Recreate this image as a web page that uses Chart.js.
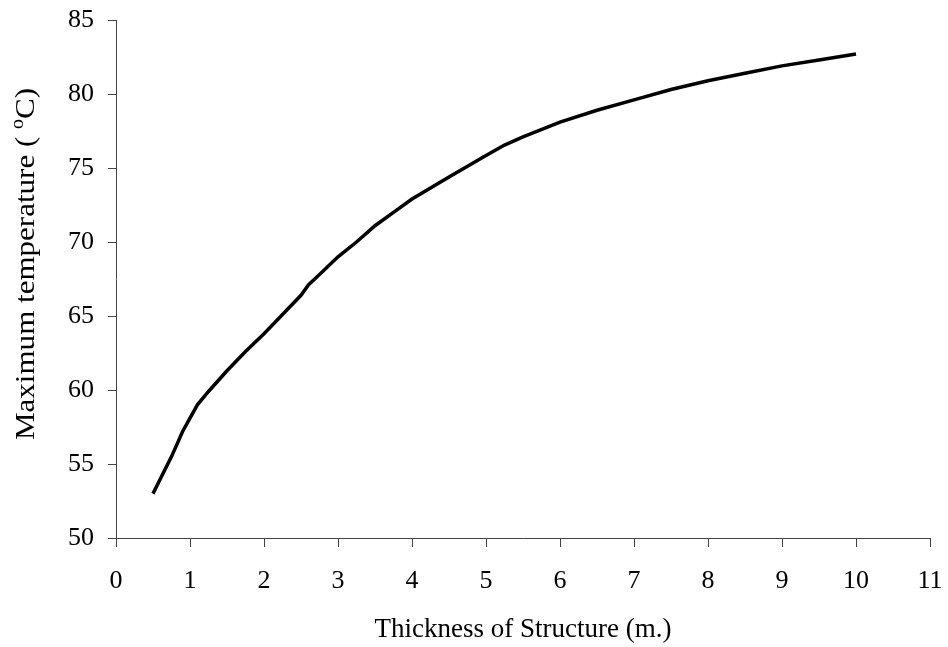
<!DOCTYPE html>
<html>
<head>
<meta charset="utf-8">
<script src="https://cdn.jsdelivr.net/npm/chart.js@4"></script>
<style>
  html, body { margin: 0; padding: 0; background: #ffffff; }
  #wrap { width: 948px; height: 647px; }
</style>
</head>
<body>
<div id="wrap"><canvas id="c" width="948" height="647"></canvas></div>
<script>
// Thickness of structure (m.)
const thickness = [0.5, 0.6, 0.75, 0.9, 1.0, 1.1, 1.25, 1.5, 1.75, 2.0, 2.25, 2.5, 2.6, 2.75,
                   3.0, 3.25, 3.5, 3.75, 4.0, 4.5, 5.0, 5.25, 5.5, 6.0, 6.5, 7.0, 7.5, 8.0,
                   8.5, 9.0, 9.5, 10.0];
// Maximum temperature (°C)
const maxTemp = [53.0, 54.0, 55.5, 57.2, 58.1, 59.0, 59.9, 61.3, 62.6, 63.8, 65.1, 66.4, 67.1, 67.8,
                 69.0, 70.0, 71.1, 72.0, 72.9, 74.4, 75.85, 76.55, 77.1, 78.1, 78.9, 79.6, 80.3, 80.9,
                 81.4, 81.9, 82.3, 82.7];
const xTitle = 'Thickness of Structure (m.)';
// y title pieces: main text, superscript, tail
const yTitleParts = ['Maximum temperature ( ', 'o', 'C)'];

const points = thickness.map((x, i) => ({ x: x, y: maxTemp[i] }));
const serif = '"Liberation Serif", "Times New Roman", serif';
const axisColor = '#444444';

// Plot frame wanted on the canvas
const frame = { top: 20, right: 930 };

// Vertical axis title with a superscript degree mark, drawn rotated beside the y axis
const yTitlePlugin = {
  id: 'yTitleSup',
  afterDraw(chart) {
    const ctx = chart.ctx;
    const size = 28;
    const supSize = 18;
    const mainFont = size + 'px ' + serif;
    const supFont = supSize + 'px ' + serif;
    ctx.save();
    ctx.font = mainFont;
    const w0 = ctx.measureText(yTitleParts[0]).width;
    const w2 = ctx.measureText(yTitleParts[2]).width;
    ctx.font = supFont;
    const w1 = ctx.measureText(yTitleParts[1]).width;
    const total = w0 + w1 + w2;
    const span = 352;                 // drawn length of the title
    const k = span / total;
    const cx = 34;                    // baseline position
    const cy = 264;                   // centre along the axis
    ctx.translate(cx, cy);
    ctx.rotate(-Math.PI / 2);
    ctx.scale(k, 1);
    ctx.fillStyle = '#000';
    ctx.textBaseline = 'alphabetic';
    ctx.textAlign = 'left';
    let x = -total / 2;
    ctx.font = mainFont;
    ctx.fillText(yTitleParts[0], x, 0);
    x += w0;
    ctx.font = supFont;
    ctx.fillText(yTitleParts[1], x, -size * 0.38);
    x += w1;
    ctx.font = mainFont;
    ctx.fillText(yTitleParts[2], x, 0);
    ctx.restore();
  }
};

const chart = new Chart(document.getElementById('c'), {
  type: 'line',
  data: {
    datasets: [{
      data: points,
      borderColor: '#000000',
      borderWidth: 3.5,
      pointRadius: 0,
      tension: 0,
      fill: false
    }]
  },
  options: {
    responsive: false,
    animation: false,
    layout: { padding: { left: 0, right: 18, top: 20, bottom: 0 } },
    plugins: { legend: { display: false }, tooltip: { enabled: false } },
    scales: {
      x: {
        type: 'linear',
        min: 0, max: 11,
        ticks: { stepSize: 1, color: '#000', font: { family: serif, size: 26, lineHeight: 2.6 }, padding: 0, maxRotation: 0 },
        grid: { drawOnChartArea: false, drawTicks: true, tickLength: 9, color: axisColor },
        border: { color: axisColor, width: 1 },
        title: { display: true, text: xTitle, color: '#000', font: { family: serif, size: 27 }, padding: { top: 0, bottom: 1 } },
        afterFit: (s) => { s.height = 109; }
      },
      y: {
        min: 50, max: 85,
        ticks: { stepSize: 5, color: '#000', font: { family: serif, size: 26, lineHeight: 0.4 }, padding: 14 },
        grid: { drawOnChartArea: false, drawTicks: true, tickLength: 8, color: axisColor },
        border: { color: axisColor, width: 1 },
        title: { display: false },
        afterFit: (s) => { s.width = 116; }
      }
    }
  },
  plugins: [yTitlePlugin]
});

// settle the plot frame
for (let i = 0; i < 3; i++) {
  const a = chart.chartArea;
  const p = chart.options.layout.padding;
  p.top += frame.top - a.top;
  p.right += a.right - frame.right;
  chart.update();
}
</script>
</body>
</html>
